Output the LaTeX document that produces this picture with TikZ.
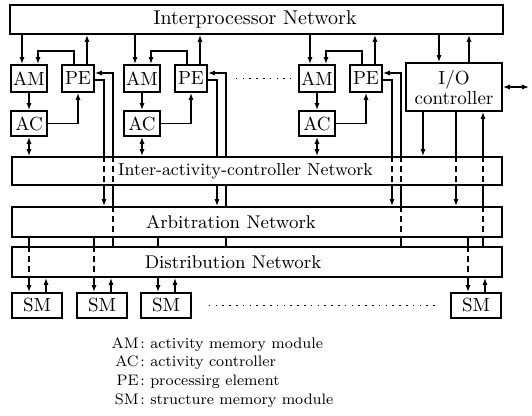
\documentclass[tikz,border=0pt]{standalone}
\usetikzlibrary{arrows.meta,backgrounds}

\begin{document}
\begin{tikzpicture}[x=.5pt,y=-.5pt,
    net/.style={draw,line width=.9pt,fill=white,inner sep=0pt,
      minimum width=245pt,minimum height=14.5pt},
    netlabel/.style={fill=white,inner sep=1pt,
      font=\fontsize{9.2}{11}\selectfont},
    unit/.style={draw,line width=.9pt,fill=white,inner sep=0pt,
      minimum width=18pt,minimum height=13.5pt,
      font=\fontsize{9.5}{10}\selectfont},
    arr/.style={line width=.8pt,-{Latex[length=3.5pt,width=2.6pt]}},
    dbl/.style={line width=.8pt,
      {Latex[length=3.5pt,width=2.6pt]}-{Latex[length=3.5pt,width=2.6pt]}},
    hid/.style={line width=.8pt,dash pattern=on 3pt off 2pt},
    ellip/.style={line width=.8pt,dash pattern=on .8pt off 2.6pt},
    legend/.style={inner sep=0pt,font=\fontsize{7.6}{9}\selectfont}]
  \useasboundingbox (0,0) rectangle (532,416);

  % networks
  \node[net,minimum width=246.5pt] (ipn) at (256.5,19.5) {};
  \node[net,minimum height=14pt] (iac) at (257,171) {};
  \node[net,minimum height=15pt] (arb) at (257,222) {};
  \node[net,minimum height=15pt] (dist) at (257,262) {};

  % processor groups
  \foreach \d/\i in {0/1,113/2,288/3}{
    \node[unit] (am\i) at (29+\d,78.5) {AM};
    \node[unit,minimum width=16pt] (pe\i) at (78+\d,78.5) {PE};
    \node[unit,minimum height=12.5pt] (ac\i) at (29+\d,123.5) {AC};
  }
  \node[unit,minimum width=48pt,minimum height=24pt,align=center] (io)
    at (454,87) {I/O\\controller};
  \coordinate (ioext) at (529,87);

  % structure memories
  \foreach \x/\i in {37/1,102/2,166/3,476/4}
    \node[unit,minimum width=25pt,minimum height=12.5pt] (sm\i) at (\x,305.5) {SM};

  \begin{pgfonlayer}{background}
    \foreach \d/\i in {0/1,113/2,288/3}{
      \draw[arr] (22+\d,0 |- ipn.south) -- (22+\d,0 |- am\i.north);
      \draw[arr] (87+\d,0 |- pe\i.north) -- (87+\d,0 |- ipn.south);
      \draw[arr] (74+\d,0 |- pe\i.north) -- ++(0,-13) -| (38+\d,0 |- am\i.north);
      \draw[arr] (am\i) -- (ac\i);
      \draw[arr] (ac\i) -| (pe\i);
      \draw[dbl] (ac\i) -- (ac\i |- iac.north);
      \draw[arr] (pe\i.east |- 0,80) -| (104+\d,0 |- arb.north);
      \draw[arr] (113+\d,0 |- dist.north) |- (pe\i.east |- 0,73);
    }
    \draw[arr] (439,0 |- ipn.south) -- (439,0 |- io.north);
    \draw[arr] (469,0 |- io.north) -- (469,0 |- ipn.south);
    \draw[arr] (423,0 |- io.south) -- (423,0 |- iac.north);
    \draw[arr] (456,0 |- io.south) -- (456,0 |- arb.north);
    \draw[arr] (483,0 |- dist.north) -- (483,0 |- io.south);
    \draw[dbl] (io.east) -- (ioext);
    \foreach \x/\i in {37/1,102/2,166/3,476/4}{
      \draw[arr] (\x-8,0 |- arb.south) -- (\x-8,0 |- sm\i.north);
      \draw[arr] (\x+9,0 |- sm\i.north) -- (\x+9,0 |- dist.south);
    }
  \end{pgfonlayer}

  % lines passing through the networks
  \foreach \x in {104,217,392,456}
    \draw[hid] (\x,0 |- iac.north) -- (\x,0 |- iac.south);
  \foreach \x in {113,226,401,483}{
    \draw[hid] (\x,0 |- iac.north) -- (\x,0 |- iac.south);
    \draw[hid] (\x,0 |- arb.north) -- (\x,0 |- arb.south);
  }
  \foreach \x in {29,94,158,468}
    \draw[hid] (\x,0 |- dist.north) -- (\x,0 |- dist.south);

  \node[netlabel,font=\normalsize] (ipnlabel) at (255,20) {Interprocessor Network};
  \node[netlabel,minimum height=13.2pt,font=\fontsize{8.7}{10}\selectfont]
    (iaclabel) at (245.5,171) {Inter-activity-controller Network};
  \node[netlabel,minimum height=14.2pt] (arblabel) at (231,222) {Arbitration Network};
  \node[netlabel,minimum height=14.2pt] (distlabel) at (233,262) {Distribution Network};

  \draw[ellip,shorten <=14pt,shorten >=3.5pt] (pe2) -- (am3);
  \draw[ellip,shorten <=8.5pt,shorten >=5.5pt] (sm3) -- (sm4);

  % key
  \foreach \ab/\txt/\y in {AM/activity memory module/349,AC/activity controller/367,
      PE/processirg element/386,SM/structure memory module/405}{
    \node[legend,anchor=base east] (key\ab) at (139,\y) {\ab};
    \node[legend,anchor=base west] (def\ab) at (140,\y) {:\ \txt};
  }
\end{tikzpicture}
\end{document}
